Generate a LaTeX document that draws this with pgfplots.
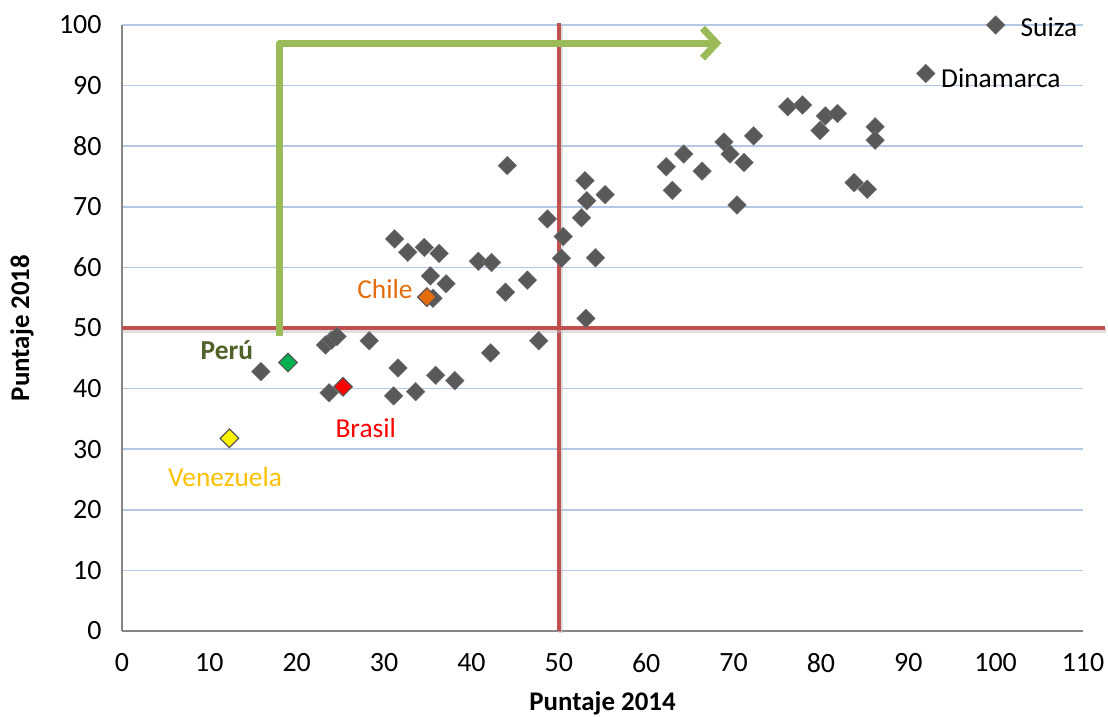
\documentclass[border=0pt]{standalone}
\usepackage{pgfplots}
\pgfplotsset{compat=1.18}
\usepackage{fontspec}
\setmainfont{Carlito}
\usetikzlibrary{arrows.meta}

\definecolor{ptgrey}{RGB}{89,89,89}
\definecolor{axisgrey}{RGB}{134,134,134}
\definecolor{gridblue}{RGB}{180,200,230}
\definecolor{refred}{RGB}{192,80,77}
\definecolor{arrowgreen}{RGB}{155,187,89}
\definecolor{chileorange}{RGB}{228,108,10}
\definecolor{perugreen}{RGB}{0,176,80}
\definecolor{perutext}{RGB}{79,98,40}
\definecolor{venyellow}{RGB}{255,192,0}

\begin{document}
\begin{tikzpicture}[font=\fontsize{27.5}{32}\selectfont]

	\begin{axis}[
		name				= ax,
		scale only axis,
		width				= 961bp,
		height				= 606bp,
		xmin = 0, xmax = 110,
		ymin = 0, ymax = 100,
		xtick				= {0,10,...,110},
		ytick				= {0,10,...,100},
		axis x line*		= bottom,
		axis y line*		= left,
		axis line style		= {draw=axisgrey, line width=1.3bp},
		major tick length	= 0pt,
		ymajorgrids,
		grid style			= {gridblue, line width=1.5bp},
		tick label style	= {font=\fontsize{28}{32}\selectfont},
		xticklabel style	= {yshift=-19bp},
		yticklabel style	= {xshift=-17bp},
		/pgf/number format/assume math mode=true,
		xlabel				= {\textbf{Puntaje 2014}},
		ylabel				= {\textbf{Puntaje 2018}},
		label style			= {font=\fontsize{27}{32}\selectfont},
		xlabel style		= {at={(axis description cs:0.5,0)}, anchor=center, yshift=-72bp},
		ylabel style		= {at={(axis description cs:0,0.5)}, anchor=center, yshift=100bp},
		clip				= false,
	]

		% vertical reference line at 50 (under the markers)
		\addplot[color=black!25, line width=5bp, opacity=0.5, shift={(1.5bp,-2bp)}] coordinates {(50,0) (50,100.3)};
		\addplot[color=refred, line width=4.5bp] coordinates {(50,0) (50,100.3)};

		% all countries
		\addplot[only marks, mark=square*, mark size=6.6bp,
			mark options={rotate=45, fill=ptgrey, draw=ptgrey!85}] coordinates {
			(100,100) (92,92)
			(76.2,86.5) (77.9,86.8) (80.5,85.0) (81.9,85.4) (79.9,82.6)
			(86.2,83.2) (86.2,81.0) (83.8,74.0) (85.3,72.9)
			(72.3,81.7) (68.9,80.7) (69.6,78.7) (71.2,77.3)
			(64.3,78.7) (62.3,76.6) (66.4,75.9) (63.0,72.7) (70.4,70.3)
			(44.1,76.8) (53.0,74.3) (55.3,72.0) (53.2,71.0) (52.6,68.2)
			(48.7,68.0) (50.5,65.1) (50.3,61.5) (54.2,61.6)
			(31.2,64.7) (32.7,62.5) (34.6,63.3) (36.3,62.3)
			(40.8,61.0) (42.3,60.8) (35.3,58.6) (37.1,57.3) (35.6,54.9)
			(43.9,55.9) (46.4,57.9) (53.1,51.6)
			(47.7,47.9) (42.2,45.9)
			(23.3,47.2) (24.0,48.0) (24.6,48.6) (28.3,47.9)
			(15.9,42.8) (31.6,43.4) (35.9,42.2) (38.1,41.3)
			(23.7,39.3) (31.1,38.8) (33.6,39.5)
		};

		% highlighted countries
		\addplot[only marks, mark=square*, mark size=6.6bp,
			mark options={rotate=45, fill=chileorange, draw=ptgrey, line width=1.2bp}] coordinates {(34.9,55.1)};
		\addplot[only marks, mark=square*, mark size=6.6bp,
			mark options={rotate=45, fill=perugreen, draw=ptgrey, line width=1.2bp}] coordinates {(19.0,44.3)};
		\addplot[only marks, mark=square*, mark size=6.6bp,
			mark options={rotate=45, fill=red, draw=ptgrey, line width=1.2bp}] coordinates {(25.3,40.3)};
		\addplot[only marks, mark=square*, mark size=6.6bp,
			mark options={rotate=45, fill=yellow, draw=ptgrey, line width=1.2bp}] coordinates {(12.3,31.8)};

		% horizontal reference line at 50
		\addplot[color=black!25, line width=5bp, opacity=0.5, shift={(1.5bp,-3bp)}] coordinates {(0,50) (112.5,50)};
		\addplot[color=refred, line width=4.5bp] coordinates {(0,50) (112.5,50)};

		% green arrow
		\draw[arrowgreen, line width=7bp, line join=round,
			-{Straight Barb[length=14bp, width=30bp, line width=7bp]}]
			(axis cs:18.0,48.6) -- (axis cs:18.0,97.0) -- (axis cs:68.6,97.0);

		% labels
		\node at (axis cs:106.1,99.7) {Suiza};
		\node at (axis cs:100.6,91.3) {Dinamarca};
		\node[text=chileorange] at (axis cs:30.1,56.4) {Chile};
		\node[text=perutext, font=\fontsize{27.5}{32}\selectfont\bfseries] at (axis cs:12.0,46.4) {Perú};
		\node[text=red] at (axis cs:27.9,33.5) {Brasil};
		\node[text=venyellow] at (axis cs:11.8,25.4) {Venezuela};

	\end{axis}

	\pgfresetboundingbox
	\path[use as bounding box] ([shift={(-122bp,-86bp)}]ax.south west) rectangle ([shift={(25bp,25bp)}]ax.north east);

\end{tikzpicture}
\end{document}
